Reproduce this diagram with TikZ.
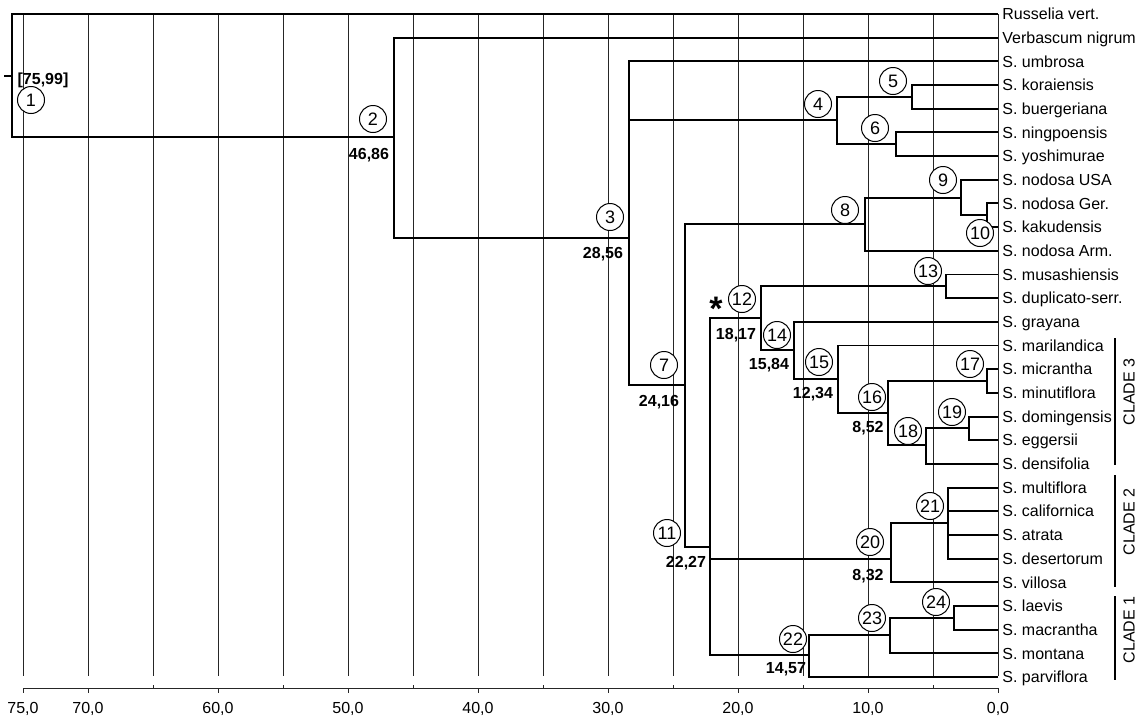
\documentclass[tikz,border=0pt]{standalone}
\usepackage{fontspec}
\setmainfont{Liberation Sans}
\begin{document}
\begin{tikzpicture}[x=0.5pt,y=-0.5pt,
  tree/.style={line width=0.95pt},
  gridln/.style={line width=0.45pt, black!85},
  num/.style={circle, draw, line width=0.5pt, fill=white, inner sep=0pt,
    minimum size=13.5pt, text height=6.4pt, text depth=0pt,
    font=\fontsize{9}{10}\selectfont},
  age/.style={inner sep=0pt, text height=5.7pt, text depth=0pt,
    font=\fontsize{8}{9}\selectfont\bfseries},
  leaf/.style={anchor=west, inner sep=0pt, text height=5.7pt, text depth=0pt,
    font=\fontsize{8}{9}\selectfont},
  axlab/.style={inner sep=0pt, text height=5.7pt, text depth=0pt,
    font=\fontsize{8}{9}\selectfont},
  clade/.style={rotate=90, inner sep=0pt, text height=5.7pt, text depth=0pt,
    font=\fontsize{8}{9}\selectfont},
  cladebar/.style={line width=0.7pt}]
\useasboundingbox (0,0) rectangle (1140,718);

% grid lines
\foreach \k in {0,...,15}
  \draw[gridln] ({998-65*\k},14) -- ({998-65*\k},676);

% axis
\draw[gridln] (23,688) -- (998,688);
\foreach \v in {75,70,60,50,40,30,20,10,0}{
  \draw[gridln] ({998-13*\v},688) -- ++(0,5);
  \node[axlab] (ax\v) at ({998-13*\v},708) {\v,0};
}
\foreach \v in {65,55,45,35,25,15,5}
  \draw[gridln] ({998-13*\v},688) -- ++(0,-3);

% leaves
\foreach \i/\nm in {0/Russelia vert.,1/Verbascum nigrum,2/S. umbrosa,3/S. koraiensis,4/S. buergeriana,5/S. ningpoensis,6/S. yoshimurae,7/S. nodosa USA,8/S. nodosa Ger.,9/S. kakudensis,10/S. nodosa Arm.,11/S. musashiensis,12/S. duplicato-serr.,13/S. grayana,14/S. marilandica,15/S. micrantha,16/S. minutiflora,17/S. domingensis,18/S. eggersii,19/S. densifolia,20/S. multiflora,21/S. californica,22/S. atrata,23/S. desertorum,24/S. villosa,25/S. laevis,26/S. macrantha,27/S. montana,28/S. parviflora}{
  \coordinate (l\i) at (998,{14+23.68*\i});
  \node[leaf] (t\i) at (1002,{14+23.68*\i}) {\nm};
}

% internal nodes
\coordinate (r0) at (4,76);
\coordinate (n1) at (12,76);
\coordinate (n2) at (394,137);
\coordinate (n3) at (629,238);
\coordinate (n4) at (837,120);
\coordinate (n5) at (912,97);
\coordinate (n6) at (896,144);
\coordinate (n7) at (685,385);
\coordinate (n8) at (865,224);
\coordinate (n9) at (961,198);
\coordinate (n10) at (987,215);
\coordinate (n11) at (710,547);
\coordinate (n12) at (761,318);
\coordinate (n13) at (946,286);
\coordinate (n14) at (794,350);
\coordinate (n15) at (838,379);
\coordinate (n16) at (888,413);
\coordinate (n17) at (987,381);
\coordinate (n18) at (926,445);
\coordinate (n19) at (969,428);
\coordinate (n20) at (891,559);
\coordinate (n21) at (948,523);
\coordinate (n22) at (809,655);
\coordinate (n23) at (890,635);
\coordinate (n24) at (954,618);

\draw[tree] (r0) -- (n1);
\foreach \p/\c in {n1/l0,n1/n2,n2/l1,n2/n3,n3/l2,n3/n4,n3/n7,n4/n5,n4/n6,
  n5/l3,n5/l4,n6/l5,n6/l6,n7/n8,n7/n11,n8/n9,n8/l10,n9/l7,n9/n10,n10/l8,n10/l9,
  n11/n12,n11/n20,n11/n22,n12/n13,n12/n14,n13/l11,n13/l12,n14/l13,n14/n15,
  n15/l14,n15/n16,n16/n17,n16/n18,n17/l15,n17/l16,n18/n19,n18/l19,n19/l17,n19/l18,
  n20/n21,n20/l24,n21/l20,n21/l21,n21/l22,n21/l23,n22/n23,n22/l28,n23/n24,n23/l27,
  n24/l25,n24/l26}
  \draw[tree] (\p) |- (\c);

% node numbers
\foreach \n/\x/\y in {1/31/100,2/373/119,3/610/217,4/818/104,5/893/81,6/875/128,
  7/664/365,8/845/210,9/943/180,10/980/233,11/667/533,12/742/299,13/928/271,
  14/777/335,15/819/362,16/872/397,17/970/364,18/908/431,19/952/412,20/870/542,
  21/930/506,22/793/639,23/872/618,24/936/602}
  \node[num] (c\n) at (\x,\y) {\n};

% ages
\node[age] (a1) at (43,79) {[75,99]};
\node[age] (a2) at (369,154) {46,86};
\node[age] (a3) at (603,253) {28,56};
\node[age] (a7) at (659,401) {24,16};
\node[age] (a12) at (736,334) {18,17};
\node[age] (a14) at (769,364) {15,84};
\node[age] (a15) at (813,393) {12,34};
\node[age] (a16) at (868,427) {8,52};
\node[age] (a11) at (686,562) {22,27};
\node[age] (a20) at (868,575) {8,32};
\node[age] (a22) at (786,668) {14,57};

\node[anchor=base, inner sep=0pt, font=\fontsize{17}{17}\selectfont\bfseries] (star) at (716,320) {*};

% clades
\draw[cladebar] (1115,338) -- (1115,465);
\draw[cladebar] (1115,475) -- (1115,587);
\draw[cladebar] (1115,596) -- (1115,680);
\node[clade] (k3) at (1129,392) {CLADE 3};
\node[clade] (k2) at (1129,522) {CLADE 2};
\node[clade] (k1) at (1129,630) {CLADE 1};
\end{tikzpicture}
\end{document}
